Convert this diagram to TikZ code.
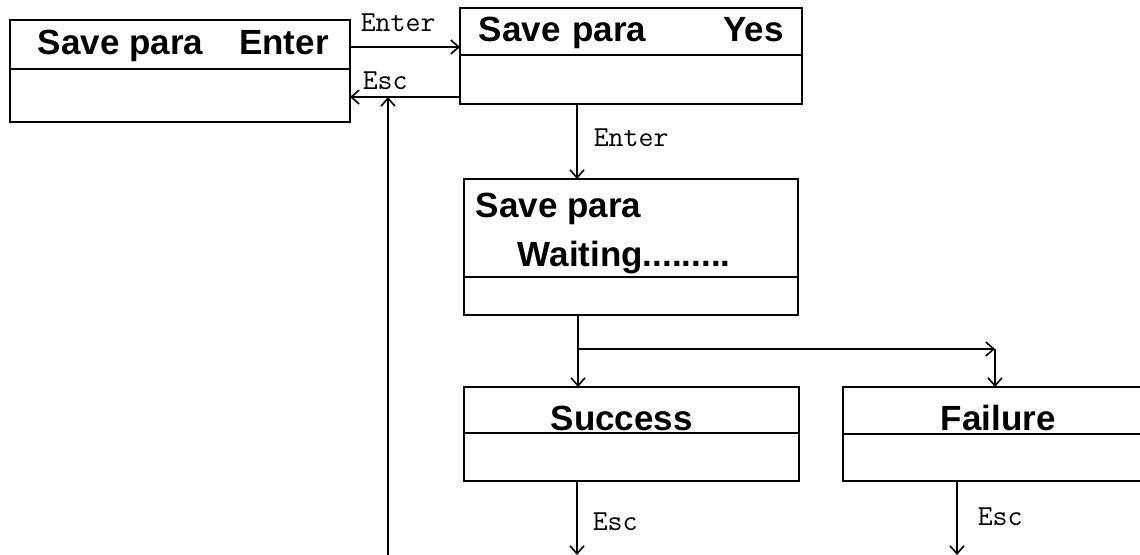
\documentclass[tikz,border=0pt]{standalone}
\usepackage{fontspec}
\setmainfont{Liberation Sans}
\usetikzlibrary{calc}
\usetikzlibrary{arrows.meta}
\newcommand{\menufont}{\fontsize{17.5pt}{20pt}\selectfont\bfseries}
\newcommand{\keyfontsize}{\fontsize{14.5pt}{16pt}\selectfont\ttfamily}
\newcommand{\menudivider}[2]{
  \draw ($(#1.north west)+(0,#2)$) -- ($(#1.north east)+(0,#2)$);
}
\tikzset{
  menubox/.style={draw, rectangle, inner sep=0pt, outer sep=0pt,
    anchor=north west},
  menutext/.style={font=\menufont, inner sep=0pt, anchor=base west},
  keytext/.style={font=\keyfontsize, inner sep=0pt, anchor=base west},
  keyarrow/.style={-{Straight Barb[length=4pt,width=7pt]}},
}

\begin{document}
\begin{tikzpicture}[x=0.5pt,y=-0.5pt,line width=0.8pt]
    \useasboundingbox (0,0) rectangle (1140,555);
    % save para menu
    \node[menubox, minimum width=170pt, minimum height=51pt] (menu1) at (10,20) {};
    \menudivider{menu1}{49}
    \node[menutext] (menu1txt) at (37,55) {Save para\hspace*{18pt}Enter};
    % confirm menu
    \node[menubox, minimum width=171pt, minimum height=48pt] (menu2) at (460,8) {};
    \menudivider{menu2}{47}
    \node[menutext, text width=152.5pt] (menu2txt) at (478,42) {Save para\hfill Yes};
    % waiting menu
    \node[menubox, minimum width=167pt, minimum height=68pt] (menu3) at (464,179) {};
    \menudivider{menu3}{98}
    \node[menutext] (menu3txt) at (475,218) {Save para};
    \node[menutext] (waittxt) at (517,267) {Waiting.........};
    % result menus
    \node[menubox, minimum width=167.5pt, minimum height=47pt] (succ) at (464,387) {};
    \menudivider{succ}{46}
    \node[menutext] (succtxt) at (550,430) {Success};
    \node[menubox, minimum width=152pt, minimum height=47pt] (fail) at (843,387) {};
    \menudivider{fail}{47}
    \node[menutext] (failtxt) at (940,430) {Failure};
    % enter / esc between first menus
    \coordinate (enterout) at ($(menu1.north east)+(0,27)$);
    \coordinate (escin) at ($(menu2.north west)+(0,89)$);
    \draw[keyarrow] (enterout) -- (enterout -| menu2.west);
    \node[keytext] (enterlbl) at (360,32) {Enter};
    \draw[keyarrow] (escin) -- (escin -| menu1.east);
    \node[keytext] (esclbl) at (362,90) {Esc};
    \coordinate (backbot) at (388,560);
    \draw[keyarrow] (backbot) -- (backbot |- escin);
    % enter to waiting
    \coordinate (waitin) at ($(menu2.south west)+(117,0)$);
    \draw[keyarrow] (waitin) -- (waitin |- menu3.north);
    \node[keytext] (enterlbl2) at (593,147) {Enter};
    % split to results
    \coordinate (split) at ($(menu3.south west)+(114,34)$);
    \draw[keyarrow] (split |- menu3.south) -- (split |- succ.north);
    \draw[keyarrow] (split) -- (split -| fail.north);
    \draw[keyarrow] (split -| fail.north) -- (fail.north);
    % esc from results
    \coordinate (succout) at ($(succ.south west)+(113,0)$);
    \draw[keyarrow] (succout) -- ++(0,74);
    \node[keytext] (esclbl2) at (592,530) {Esc};
    \coordinate (failout) at ($(fail.south west)+(114,0)$);
    \draw[keyarrow] (failout) -- ++(0,74);
    \node[keytext] (esclbl3) at (977,525) {Esc};
\end{tikzpicture}
\end{document}
